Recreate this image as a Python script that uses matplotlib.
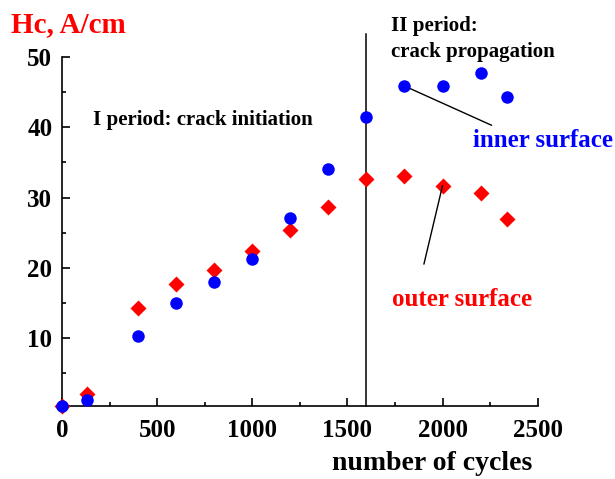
import matplotlib
matplotlib.use("Agg")
import matplotlib.pyplot as plt
from matplotlib.ticker import MultipleLocator

# values
cycles = [0, 133, 400, 600, 800, 1000, 1200, 1400, 1600, 1800, 2000, 2200, 2340]
inner = [0.3, 1.1, 10.3, 14.9, 18.0, 21.2, 27.1, 34.1, 41.5, 45.9, 45.9, 47.7, 44.4]
outer = [0.2, 2.0, 14.3, 17.7, 19.6, 22.4, 25.4, 28.7, 32.6, 33.1, 31.7, 30.7, 26.9]
boundary = 1600

plt.rcParams['font.family'] = ['Liberation Serif', 'DejaVu Serif']
plt.rcParams['font.weight'] = 'bold'

fig = plt.figure(figsize=(6.15, 4.79), dpi=100)
ax = fig.add_axes([0.1008, 0.1514, 0.7735, 0.729])

ax.plot(cycles, outer, 'D', color='red', ms=8, mec='none', clip_on=False, zorder=3)
ax.plot(cycles, inner, 'o', color='blue', ms=9, mec='none', clip_on=False, zorder=4)

# boundary between the two periods, runs above the axes top
ax.plot([boundary, boundary], [0.2, 53.3], color='black', lw=1.1, clip_on=False)

ax.set_xlim(0, 2500)
ax.set_ylim(0.2, 50)
ax.xaxis.set_major_locator(MultipleLocator(500))
ax.xaxis.set_minor_locator(MultipleLocator(250))
ax.yaxis.set_minor_locator(MultipleLocator(5))
ax.set_yticks([10, 20, 30, 40, 50])
ax.tick_params(which='major', direction='in', length=6, width=1.2, labelsize=18, pad=7)
ax.tick_params(axis='x', which='major', pad=9)
ax.tick_params(which='minor', direction='in', length=3, width=1.2)
ax.spines['top'].set_visible(False)
ax.spines['right'].set_visible(False)
ax.spines['left'].set_linewidth(1.2)
ax.spines['bottom'].set_linewidth(1.2)

fig.text(0.703, 0.0188, 'number of cycles', fontsize=20, fontweight='bold',
         ha='center', va='baseline')
fig.text(0.018, 0.934, 'Hc, A/cm', color='red', fontsize=21, fontweight='bold', va='baseline')

ax.text(163, 41, 'I period: crack initiation', fontsize=15, fontweight='bold', va='center')
ax.text(1729, 52.6, 'II period:\ncrack propagation', fontsize=15, fontweight='bold',
        va='center', linespacing=1.35)

ax.annotate('', xy=(1800, 45.9), xytext=(2258, 40.3),
            arrowprops=dict(arrowstyle='-', color='black', lw=1, shrinkA=0, shrinkB=0))
ax.text(2160, 38.2, 'inner surface', color='blue', fontsize=18, fontweight='bold', va='center')

ax.annotate('', xy=(2000, 31.7), xytext=(1902, 20.5),
            arrowprops=dict(arrowstyle='-', color='black', lw=1, shrinkA=0, shrinkB=0))
ax.text(2100, 15.5, 'outer surface', color='red', fontsize=18, fontweight='bold',
        va='center', ha='center')

fig.savefig('out.png', dpi=100)
